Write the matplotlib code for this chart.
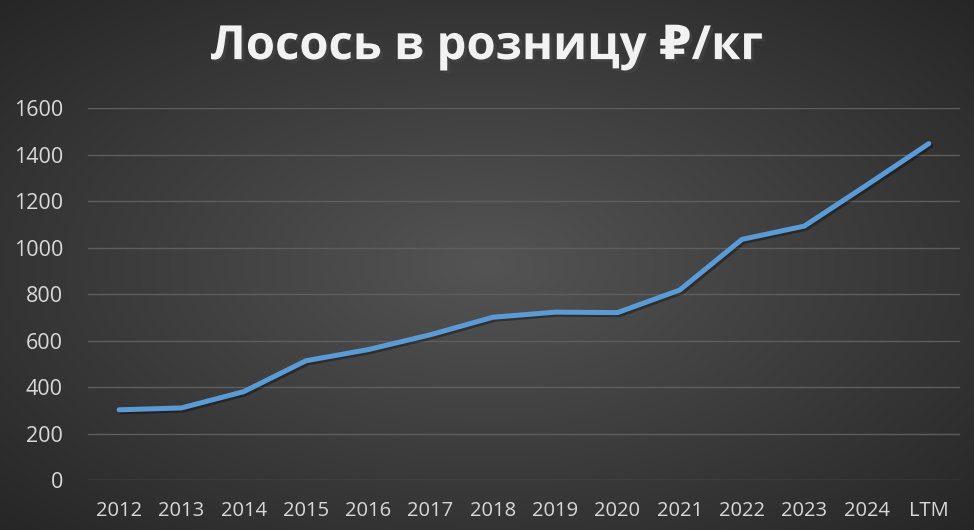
##salmon retail price chart
import numpy as np
import matplotlib
matplotlib.use('Agg')
import matplotlib.pyplot as plt
import matplotlib.patheffects as pe

#data
years = ['2012', '2013', '2014', '2015', '2016', '2017', '2018',
         '2019', '2020', '2021', '2022', '2023', '2024', 'LTM']
price = [302, 310, 380, 513, 561, 625, 700, 722, 720, 817, 1035, 1092, 1268, 1447]
y_ticks = [0, 200, 400, 600, 800, 1000, 1200, 1400, 1600]

title = 'Лосось в розницу ₽/кг'
line_color = '#5B9BD5'
text_color = '#D9D9D9'
grid_color = '#5E5E5E'

plt.rcParams['font.family'] = ['Open Sans', 'DejaVu Sans']

fig = plt.figure(figsize=(9.74, 5.30), dpi=100)

#radial gradient background
bg = fig.add_axes([0, 0, 1, 1], zorder=-10)
gx, gy = np.meshgrid(np.linspace(-1, 1, 974), np.linspace(-1, 1, 530))
r = np.sqrt(gx ** 2 + gy ** 2) / np.sqrt(2)
shade = 0.33 - 0.18 * r
bg.imshow(np.dstack([shade, shade, shade]), aspect='auto', extent=[0, 1, 0, 1])
bg.axis('off')

ax = fig.add_axes([0.0903, 0.0943, 0.8953, 0.7019])
ax.patch.set_alpha(0)
x = np.arange(len(years))
ax.plot(x, price, color=line_color, linewidth=3.6, solid_capstyle='round',
        solid_joinstyle='round',
        path_effects=[pe.SimpleLineShadow(offset=(1.5, -1.5), alpha=0.35), pe.Normal()])

ax.set_xlim(-0.5, len(years) - 0.5)
ax.set_ylim(0, 1600)
ax.set_xticks(x)
ax.set_xticklabels(years)
ax.set_yticks(y_ticks)
ax.tick_params(axis='both', length=0, colors=text_color)
ax.tick_params(axis='x', pad=15, labelsize=14.5)
ax.tick_params(axis='y', pad=18, labelsize=15.5)
ax.grid(axis='y', color=grid_color, linewidth=1)
ax.set_axisbelow(True)
for s in ax.spines.values():
    s.set_visible(False)

fig.text(0.5, 0.912, title, ha='center', va='center', color='#F2F2F2',
         fontsize=34, fontweight='bold',
         path_effects=[pe.withSimplePatchShadow(offset=(2, -2), alpha=0.5)])

plt.savefig('out.png', dpi=100)
